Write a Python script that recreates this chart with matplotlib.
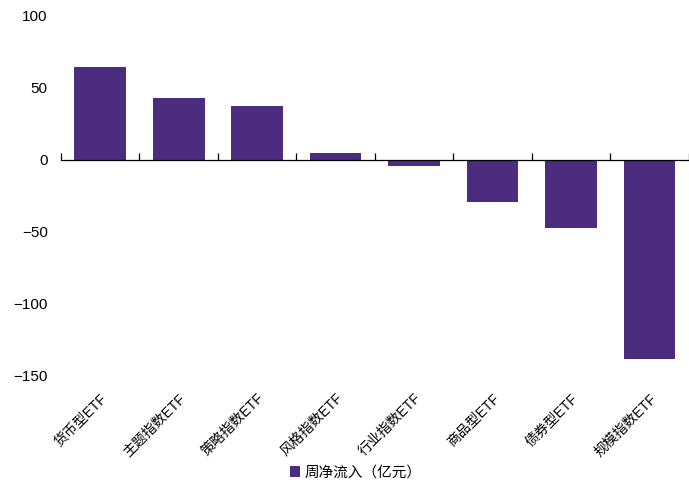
import matplotlib
matplotlib.use('Agg')
import matplotlib.pyplot as plt
import numpy as np

plt.rcParams['font.family'] = ['Liberation Sans', 'Noto Sans CJK SC', 'DejaVu Sans']
plt.rcParams['axes.unicode_minus'] = True

categories = ['货币型ETF', '主题指数ETF', '策略指数ETF', '风格指数ETF',
              '行业指数ETF', '商品型ETF', '债券型ETF', '规模指数ETF']
flows = [64.5, 43.0, 37.5, 5.0, -4.0, -29.5, -47.0, -138.5]
series_name = '周净流入（亿元）'
yticks = [-150, -100, -50, 0, 50, 100]

color = '#4B2C7F'

fig = plt.figure(figsize=(6.89, 4.83), dpi=100)
ax = fig.add_axes([0.0885, 0.222, 0.911, 0.745])

x = np.arange(len(categories))
ax.bar(x, flows, width=0.66, color=color, label=series_name, zorder=2)

ax.set_xlim(-0.5, len(categories) - 0.5)
ax.set_ylim(-150, 100)
ax.set_yticks(yticks)
ax.tick_params(axis='y', length=0, labelsize=11, pad=9.5)

for s in ['top', 'right', 'left']:
    ax.spines[s].set_visible(False)
ax.spines['bottom'].set_position(('data', 0))
ax.spines['bottom'].set_color('#000000')
ax.spines['bottom'].set_linewidth(0.9)
ax.spines['bottom'].set_zorder(3)
ax.set_xticks(np.arange(len(categories) + 1) - 0.5)
ax.tick_params(axis='x', direction='in', length=5, width=0.9, labelbottom=False)

# category labels sit under the plot area, rotated
sec = ax.secondary_xaxis('bottom')
sec.spines['bottom'].set_visible(False)
sec.set_xticks(x)
sec.set_xticklabels(categories, rotation=45, ha='right', va='top',
                    rotation_mode='anchor', fontsize=10)
sec.tick_params(length=0, pad=11)

ax.legend(loc='lower center', bbox_to_anchor=(0.47, -0.325), frameon=False,
          fontsize=10.5, handlelength=0.7, handleheight=0.7, handletextpad=0.3)

fig.savefig('out.png', dpi=100)
